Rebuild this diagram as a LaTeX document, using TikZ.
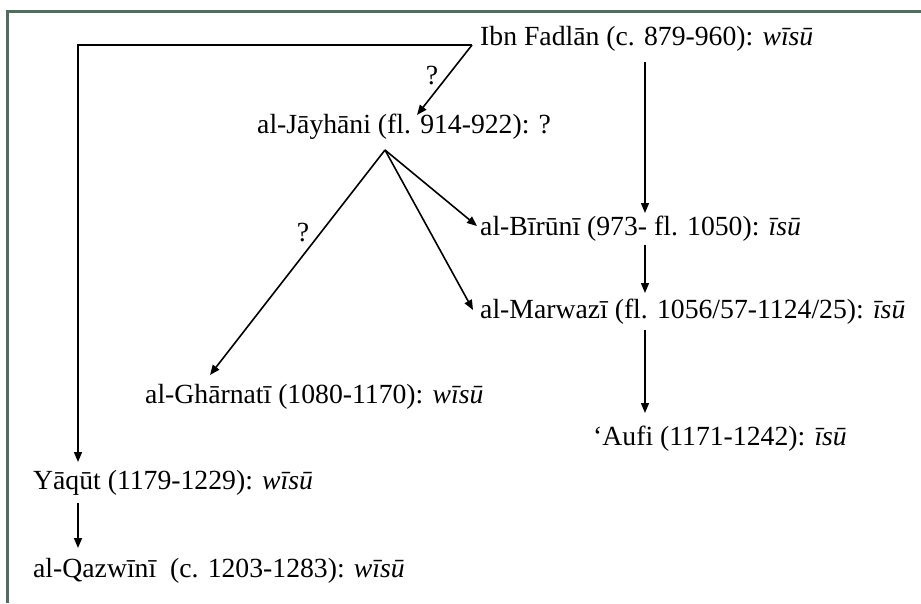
\documentclass[tikz,border=0pt]{standalone}
\usepackage{fontspec}
\setmainfont{Liberation Serif}
\usetikzlibrary{arrows.meta}
\definecolor{frame}{HTML}{4D6E60}
\begin{document}
\begin{tikzpicture}[x=1pt,y=-1pt,
  txt/.style={anchor=base west,inner sep=0pt,font=\fontsize{27.7}{33}\selectfont},
  qm/.style={inner sep=0pt,font=\fontsize{27.7}{33}\selectfont},
  arr/.style={line width=1.6pt,-{Triangle[length=10pt,width=8pt]}},
  ln/.style={line width=1.6pt}]
\useasboundingbox (0,0) rectangle (921,603);
\fill[white] (0,0) rectangle (921,603);
\draw[frame,line width=3pt] (7.5,603) -- (7.5,11.5) -- (921,11.5);
% nodes
\node[txt] (ibn) at (480,45) {Ibn Fadlān (c. 879-960): \textit{wīsū}};
\node[txt] (jay) at (257,133) {al-Jāyhāni (fl. 914-922): ?};
\node[txt] (bir) at (480,235) {al-Bīrūnī (973- fl. 1050): \textit{īsū}};
\node[txt] (mar) at (480,318) {al-Marwazī (fl. 1056/57-1124/25): \textit{īsū}};
\node[txt] (gha) at (145,403) {al-Ghārnatī (1080-1170): \textit{wīsū}};
\node[txt] (auf) at (593,445) {‘Aufi (1171-1242): \textit{īsū}};
\node[txt] (yaq) at (33,489) {Yāqūt (1179-1229): \textit{wīsū}};
\node[txt] (qaz) at (33,577) {al-Qazwīnī~ (c. 1203-1283): \textit{wīsū}};
% connector points
\coordinate (ibnL) at (472,45);
\coordinate (ibnB) at (645,62);
\coordinate (corner) at (78,45);
\coordinate (jayB) at (385,150);
\coordinate (jayT) at (417,115);
\coordinate (birT) at (645,213);
\coordinate (birB) at (645,245);
\coordinate (birL) at (477,226);
\coordinate (marT) at (645,293);
\coordinate (marB) at (645,330);
\coordinate (marL) at (473,310);
\coordinate (ghaT) at (210,375);
\coordinate (aufT) at (645,413);
\coordinate (yaqT) at (78,462);
\coordinate (yaqB) at (78,503);
\coordinate (qazT) at (78,548);
% connectors
\draw[arr] (ibnL) -- (corner) -- (yaqT);
\draw[arr] (ibnL) -- (jayT);
\draw[arr] (ibnB) -- (birT);
\draw[arr] (jayB) -- (ghaT);
\draw[arr] (jayB) -- (birL);
\draw[arr] (jayB) -- (marL);
\draw[arr] (birB) -- (marT);
\draw[arr] (marB) -- (aufT);
\draw[arr] (yaqB) -- (qazT);
% question marks
\node[qm] (q1) at (432,76) {?};
\node[qm] (q2) at (303,233) {?};
\end{tikzpicture}
\end{document}
